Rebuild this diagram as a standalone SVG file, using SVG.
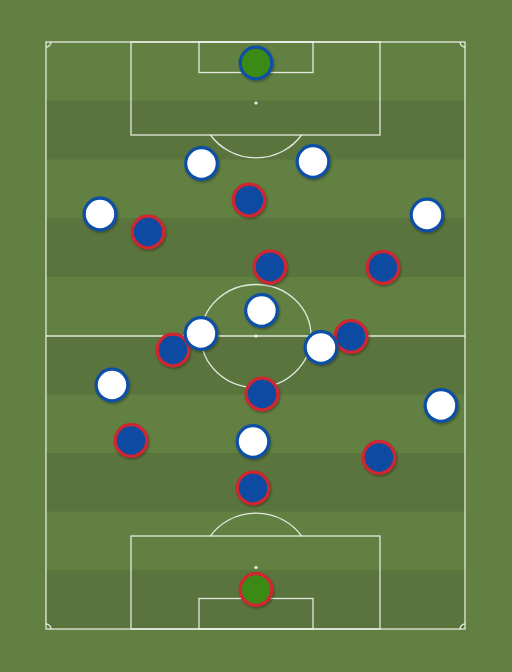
<svg xmlns="http://www.w3.org/2000/svg" width="512" height="672" viewBox="0 0 512 672">
<defs>
<style>
.line{fill:none;stroke:#f2f4ee;stroke-width:1.3;stroke-opacity:0.9}
.spot{fill:#f2f4ee}
.stripe{fill:#5a743e}
.p{stroke-width:3.2}
.home{fill:#ffffff;stroke:#0e4fa6}
.away{fill:#0d4ca3;stroke:#cf2530}
.gkh{fill:#3b8a14;stroke:#0e4fa6}
.gka{fill:#3b8a14;stroke:#cf2530}
</style>
<filter id="sh" x="-30%" y="-30%" width="160%" height="160%">
<feDropShadow dx="1" dy="1.5" stdDeviation="1.2" flood-color="#000" flood-opacity="0.35"/>
</filter>
</defs>
<rect x="0" y="0" width="512" height="672" fill="#628042"/>
<g id="pitch">
<rect class="stripe" x="46" y="100.7" width="419" height="58.7"/>
<rect class="stripe" x="46" y="218.1" width="419" height="58.7"/>
<rect class="stripe" x="46" y="335.5" width="419" height="58.7"/>
<rect class="stripe" x="46" y="452.9" width="419" height="58.7"/>
<rect class="stripe" x="46" y="570.3" width="419" height="58.7"/>
<rect class="line" x="46" y="42" width="419" height="587"/>
<line class="line" x1="46" y1="336" x2="465" y2="336"/>
<ellipse class="line" cx="256" cy="336" rx="55" ry="51.5"/>
<circle class="spot" cx="256" cy="336" r="1.6"/>
<rect class="line" x="131" y="42" width="249" height="93"/>
<rect class="line" x="199" y="42" width="114" height="30.5"/>
<circle class="spot" cx="256" cy="103" r="1.6"/>
<path class="line" d="M210.5 135 A55 52 0 0 0 301.5 135"/>
<rect class="line" x="131" y="536" width="249" height="93"/>
<rect class="line" x="199" y="598.5" width="114" height="30.5"/>
<circle class="spot" cx="256" cy="567.5" r="1.6"/>
<path class="line" d="M210.5 536 A55 52 0 0 1 301.5 536"/>
<path class="line" d="M46 47 A5 5 0 0 0 51 42"/>
<path class="line" d="M460 42 A5 5 0 0 0 465 47"/>
<path class="line" d="M46 624 A5 5 0 0 1 51 629"/>
<path class="line" d="M460 629 A5 5 0 0 1 465 624"/>
</g>
<g id="connectors"/>
<g id="away-team" filter="url(#sh)">
<g id="away-gk"><circle class="p gka" cx="256" cy="589.5" r="15.8"/></g>
<g id="away-1"><circle class="p away" cx="249" cy="200" r="15.8"/></g>
<g id="away-2"><circle class="p away" cx="148" cy="232" r="15.8"/></g>
<g id="away-3"><circle class="p away" cx="270" cy="267" r="15.8"/></g>
<g id="away-4"><circle class="p away" cx="383" cy="267.5" r="15.8"/></g>
<g id="away-5"><circle class="p away" cx="173" cy="350" r="15.8"/></g>
<g id="away-6"><circle class="p away" cx="351" cy="336.5" r="15.8"/></g>
<g id="away-7"><circle class="p away" cx="262" cy="394" r="15.8"/></g>
<g id="away-8"><circle class="p away" cx="131" cy="440.5" r="15.8"/></g>
<g id="away-9"><circle class="p away" cx="379" cy="457.5" r="15.8"/></g>
<g id="away-10"><circle class="p away" cx="253" cy="488" r="15.8"/></g>
</g>
<g id="home-team" filter="url(#sh)">
<g id="home-gk"><circle class="p gkh" cx="256" cy="63" r="15.8"/></g>
<g id="home-1"><circle class="p home" cx="201.5" cy="163.5" r="15.8"/></g>
<g id="home-2"><circle class="p home" cx="313" cy="161.5" r="15.8"/></g>
<g id="home-3"><circle class="p home" cx="100" cy="214" r="15.8"/></g>
<g id="home-4"><circle class="p home" cx="427" cy="215" r="15.8"/></g>
<g id="home-5"><circle class="p home" cx="261.5" cy="310.5" r="15.8"/></g>
<g id="home-6"><circle class="p home" cx="201" cy="333.5" r="15.8"/></g>
<g id="home-7"><circle class="p home" cx="321" cy="347.5" r="15.8"/></g>
<g id="home-8"><circle class="p home" cx="112" cy="385" r="15.8"/></g>
<g id="home-9"><circle class="p home" cx="441" cy="405.5" r="15.8"/></g>
<g id="home-10"><circle class="p home" cx="253" cy="441.5" r="15.8"/></g>
</g>
</svg>
